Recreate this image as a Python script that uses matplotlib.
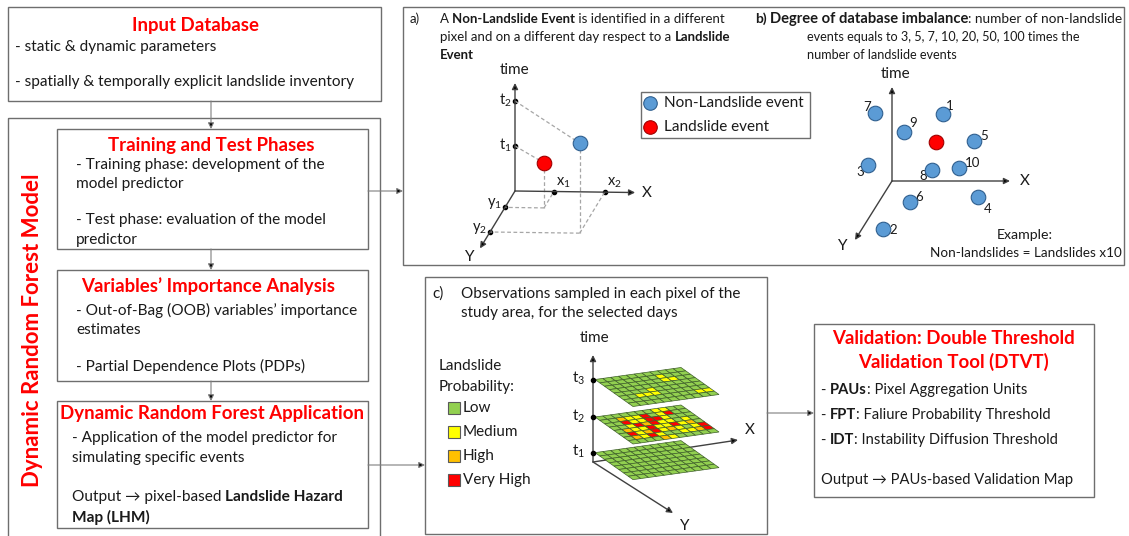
import numpy as np
import matplotlib.pyplot as plt
from matplotlib.patches import Rectangle, Polygon

plt.rcParams['font.family'] = ['Lato', 'DejaVu Sans']
plt.rcParams['mathtext.default'] = 'regular'

# ---- data ----
# panel a: tick values on the schematic axes and the two events
a_x_labels = ['x$_1$', 'x$_2$']
a_x_vals = [1.0, 2.3]
a_y_labels = ['y$_1$', 'y$_2$']
a_y_vals = [1.0, 2.5]
a_t_labels = ['t$_1$', 't$_2$']
a_t_vals = [1.0, 2.0]
a_event_names = ['Landslide event', 'Non-Landslide event']

# panel b: non-landslide events around one landslide (offsets from the axis origin)
b_ids = ['1', '2', '3', '4', '5', '6', '7', '8', '9', '10']
b_u = [51, -9, -24, 86, 82, 18, -17, 40, 12, 67]
b_v = [67, -48, 16, -16, 40, -21, 68, 11, 49, 13]
b_land_u = 44
b_land_v = 39

# panel c: probability maps for three days (G low, Y medium, O high, R very high)
c_t_labels = ['t$_1$', 't$_2$', 't$_3$']
c_t_vals = [0.25, 1.2, 2.2]
c_maps = [
    ['GGGGGGGGGGG',
     'GGGGGGGGGGG',
     'GGGGGGGGGGG',
     'GGGGGGGGGGG',
     'GGGGGGGGGGG',
     'GGGGGGGGGGG',
     'GGGGGGGGGGG',
     'GGGGGGGGGGG'],
    ['GGGGGGGYYGG',
     'GGOYYRGYRGG',
     'GGRYYRRYGGG',
     'GGYRORYYGYG',
     'GOYYRYYRYOG',
     'GRYORYOYGYR',
     'GOYRYGGYYOR',
     'GGGGOYGGGGG'],
    ['GGGGGGGGGGG',
     'GGGGGGGYGGG',
     'GGGGGGGYYGG',
     'GGGGGGGGGGG',
     'GGGGYGGGGGG',
     'GGYYYGGGGGG',
     'GGGGGGGGGYY',
     'GGGGGGGGGGG'],
]
prob_classes = ['Low', 'Medium', 'High', 'Very High']
prob_codes = ['G', 'Y', 'O', 'R']
prob_colors = ['#92D050', '#FFFF00', '#FFC000', '#FF0000']

# text of the flow chart
input_lines = ['- static & dynamic parameters',
               '- spatially & temporally explicit landslide inventory']
train_lines = ['- Training phase: development of the', 'model predictor',
               '- Test phase: evaluation of the model', 'predictor']
vimp_lines = ['- Out-of-Bag (OOB) variables\u2019 importance', 'estimates',
              '- Partial Dependence Plots (PDPs)']
dtvt_items = [('PAUs', ': Pixel Aggregation Units'),
              ('FPT', ': Faliure Probability Threshold'),
              ('IDT', ': Instability Diffusion Threshold')]

RED = '#FF0000'
TXT = '#1A1A1A'
EDGE = '#6E6E6E'
LINE = '#7F7F7F'
BODY = 11.1
HEAD = 13.4

fig = plt.figure(figsize=(11.29, 5.36), dpi=100)
ax = fig.add_axes([0, 0, 1, 1])
ax.set_xlim(0, 1129)
ax.set_ylim(536, 0)
ax.axis('off')
renderer = fig.canvas.get_renderer()


def box(x0, y0, x1, y1):
    ax.add_patch(Rectangle((x0, y0), x1 - x0, y1 - y0, fill=False, ec=EDGE, lw=1.0))


def arrow(p0, p1, color=LINE, lw=0.8):
    ax.annotate('', xy=p1, xytext=p0,
                arrowprops=dict(arrowstyle='-|>', ec=color, fc='black', lw=lw,
                                shrinkA=0, shrinkB=0, mutation_scale=9))


def rich(x, y, parts, size=BODY):
    # parts: (text, weight) or (text, weight, size)
    for part in parts:
        s, w = part[0], part[1]
        fs = part[2] if len(part) > 2 else size
        t = ax.text(x, y, s, fontsize=fs, fontweight=w, color=TXT, va='center', ha='left')
        x += t.get_window_extent(renderer).width


def title(x, y, s, size=HEAD):
    ax.text(x, y, s, fontsize=size, fontweight='bold', color=RED, ha='center', va='center')


# ---- left column: flow chart ----
box(8, 7, 381, 101)
title(195, 26, 'Input Database')
for s, y in zip(input_lines, [47, 82]):
    rich(15, y, [(s, 'normal')])

box(8, 118, 380, 560)
ax.text(33, 330, 'Dynamic Random Forest Model', fontsize=16, fontweight='bold', color=RED,
        rotation=90, ha='center', va='center')

box(57, 129, 368, 249)
title(211, 145, 'Training and Test Phases')
for s, y in zip(train_lines, [165, 184, 220, 240]):
    rich(76, y, [(s, 'normal')])

box(57, 270, 368, 381)
title(208, 286, 'Variables\u2019 Importance Analysis')
for s, y in zip(vimp_lines, [310, 330, 366]):
    rich(76, y, [(s, 'normal')])

box(57, 401, 368, 528)
title(212, 414, 'Dynamic Random Forest Application')
rich(72, 438, [('- Application of the model predictor for', 'normal')])
rich(72, 458, [('simulating specific events', 'normal')])
rich(72, 497, [('Output \u2192 pixel-based ', 'normal'), ('Landslide Hazard', 'bold')])
rich(72, 517, [('Map (LHM)', 'bold')])

arrow((211, 101), (211, 129))
arrow((211, 249), (211, 270))
arrow((211, 381), (211, 401))
arrow((368, 191), (403, 191))
arrow((368, 465), (425, 465))
arrow((767, 413), (814, 413))

# ---- panels a and b ----
box(403, 7, 1124, 265)
rich(410, 19, [('a)', 'normal')], size=9.5)
rich(440, 19, [('A ', 'normal'), ('Non-Landslide Event', 'bold'),
               (' is identified in a different', 'normal')], size=9.5)
rich(440, 37, [('pixel and on a different day respect to a ', 'normal'),
               ('Landslide', 'bold')], size=9.5)
rich(440, 55, [('Event', 'bold')], size=9.5)

O = np.array([515.0, 191.0])
ex = np.array([39.0, 0.5])
ey = np.array([-10.0, 16.4])
et = np.array([0.0, -45.0])


def pa(x, y, t):
    return O + x * ex + y * ey + t * et


arrow(tuple(O), tuple(pa(3.08, 0, 0)), color='#404040', lw=1.0)
arrow(tuple(O), tuple(pa(0, 3.5, 0)), color='#404040', lw=1.0)
arrow(tuple(O), tuple(pa(0, 0, 2.4)), color='#404040', lw=1.0)
tip = pa(0, 0, 2.4)
ax.text(tip[0], tip[1] - 13, 'time', fontsize=11, color=TXT, ha='center', va='center')
tip = pa(3.08, 0, 0)
ax.text(tip[0] + 12, tip[1], 'X', fontsize=11, color=TXT, ha='center', va='center')
tip = pa(0, 3.5, 0)
ax.text(tip[0] - 10, tip[1] + 9, 'Y', fontsize=11, color=TXT, ha='center', va='center')

for lab, v in zip(a_x_labels, a_x_vals):
    p = pa(v, 0, 0)
    ax.plot(p[0], p[1], 'o', color='black', ms=3)
    ax.text(p[0] + 2, p[1] - 9, lab, fontsize=10.5, color=TXT, ha='left', va='center')
for lab, v in zip(a_y_labels, a_y_vals):
    p = pa(0, v, 0)
    ax.plot(p[0], p[1], 'o', color='black', ms=3)
    ax.text(p[0] - 3, p[1] - 4, lab, fontsize=10.5, color=TXT, ha='right', va='center')
for lab, v in zip(a_t_labels, a_t_vals):
    p = pa(0, 0, v)
    ax.plot(p[0], p[1], 'o', color='black', ms=3)
    ax.text(p[0] - 3, p[1] - 1, lab, fontsize=10.5, color=TXT, ha='right', va='center')

ev_colors = [RED, '#5B9BD5']
ev_edges = ['#A00000', '#2F5F8F']
for k in range(2):
    x, y, t = a_x_vals[k], a_y_vals[k], a_t_vals[k]
    p, fl = pa(x, y, t), pa(x, y, 0)
    for q0, q1 in [(pa(0, 0, t), p), (p, fl), (fl, pa(x, 0, 0)), (fl, pa(0, y, 0))]:
        ax.plot([q0[0], q1[0]], [q0[1], q1[1]], ls=(0, (3, 2)), color='#A6A6A6', lw=0.9)
    ax.scatter(p[0], p[1], s=110, color=ev_colors[k], ec=ev_edges[k], lw=0.8, zorder=5)

# legend of panel a
box(641, 92, 810, 138)
for k, yy in zip([1, 0], [103, 127]):
    ax.scatter(650, yy, s=95, color=ev_colors[k], ec=ev_edges[k], lw=0.8, zorder=5)
    ax.text(664, yy, a_event_names[k], fontsize=11, color=TXT, ha='left', va='center')

# panel b
rich(755, 19, [('b)', 'bold')], size=10)
rich(770, 19, [('Degree of database imbalance', 'bold', 10.6),
               (': number of non-landslide', 'normal', 9.8)])
rich(807, 37, [('events equals to 3, 5, 7, 10, 20, 50, 100 times the', 'normal')], size=9.1)
rich(807, 55, [('number of landslide events', 'normal')], size=9.1)

Ob = np.array([892.0, 181.0])
arrow(tuple(Ob), (892, 87), color='#404040', lw=1.0)
arrow(tuple(Ob), (1010, 181), color='#404040', lw=1.0)
arrow(tuple(Ob), (855, 240), color='#404040', lw=1.0)
ax.text(896, 74, 'time', fontsize=11, color=TXT, ha='center', va='center')
ax.text(1025, 181, 'X', fontsize=11, color=TXT, ha='center', va='center')
ax.text(843, 246, 'Y', fontsize=11, color=TXT, ha='center', va='center')

lab_off = [(7, -8), (10, 1), (-8, 7), (10, 12), (10, -5), (9, -5), (-8, -6), (-9, 6), (9, -9), (14, -5)]
for i, (u, v) in enumerate(zip(b_u, b_v)):
    px, py = Ob[0] + u, Ob[1] - v
    ax.scatter(px, py, s=110, color='#5B9BD5', ec='#2F5F8F', lw=0.8, zorder=5)
    ax.text(px + lab_off[i][0], py + lab_off[i][1], b_ids[i], fontsize=9.5, color=TXT,
            ha='center', va='center')
ax.scatter(Ob[0] + b_land_u, Ob[1] - b_land_v, s=110, color=RED, ec='#A00000', lw=0.8, zorder=5)
ax.text(1025, 235, 'Example:', fontsize=10.2, color=TXT, ha='center', va='center')
ax.text(1026, 253, 'Non-landslides = Landslides x10', fontsize=9.7, color=TXT,
        ha='center', va='center')

# ---- panel c ----
box(425, 277, 767, 534)
rich(432, 294, [('c)', 'normal')], size=11)
rich(461, 294, [('Observations sampled in each pixel of the', 'normal')], size=11)
rich(461, 313, [('study area, for the selected days', 'normal')], size=11)

ax.text(439, 366, 'Landslide', fontsize=11, color=TXT, ha='left', va='center')
ax.text(439, 387, 'Probability:', fontsize=11, color=TXT, ha='left', va='center')
for k, yy in enumerate([408, 432, 456, 480]):
    ax.add_patch(Rectangle((448, yy - 6), 12, 12, fc=prob_colors[k], ec='#595959', lw=0.8))
    ax.text(463, yy, prob_classes[k], fontsize=11, color=TXT, ha='left', va='center')

Oc = np.array([593.0, 462.0])
etc = np.array([0.0, -37.5])
gx = np.array([86.0, -12.0])
gy = np.array([38.0, 27.0])
arrow(tuple(Oc), (593, 355), color='#404040', lw=1.0)
arrow(tuple(Oc), (738, 440), color='#404040', lw=1.0)
arrow(tuple(Oc), (673, 513), color='#404040', lw=1.0)
ax.text(595, 338, 'time', fontsize=11, color=TXT, ha='center', va='center')
ax.text(750, 430, 'X', fontsize=11, color=TXT, ha='center', va='center')
ax.text(685, 526, 'Y', fontsize=11, color=TXT, ha='center', va='center')

col_of = dict(zip(prob_codes, prob_colors))
for lab, tv, grid in zip(c_t_labels, c_t_vals, c_maps):
    A = Oc + tv * etc + np.array([2.0, 0.0])
    nr, nc = len(grid), len(grid[0])
    for r in range(nr):
        for c in range(nc):
            p0 = A + gx * c / nc + gy * r / nr
            pts = [p0, p0 + gx / nc, p0 + gx / nc + gy / nr, p0 + gy / nr]
            ax.add_patch(Polygon(pts, closed=True, fc=col_of[grid[r][c]], ec='#3F5F2A',
                                 lw=0.5, zorder=3))
    d = Oc + tv * etc
    ax.plot(d[0], d[1], 'o', color='black', ms=3, zorder=4)
    ax.text(d[0] - 8, d[1] - 1, lab, fontsize=11, color=TXT, ha='right', va='center')

# ---- validation box ----
box(814, 324, 1094, 497)
title(953, 338, 'Validation: Double Threshold')
title(953, 362, 'Validation Tool (DTVT)')
for (b, rest), yy in zip(dtvt_items, [390, 415, 440]):
    rich(821, yy, [('- ', 'normal'), (b, 'bold'), (rest, 'normal')], size=10.6)
rich(821, 480, [('Output \u2192 PAUs-based Validation Map', 'normal')], size=10.6)

fig.savefig('out.png', dpi=100)
